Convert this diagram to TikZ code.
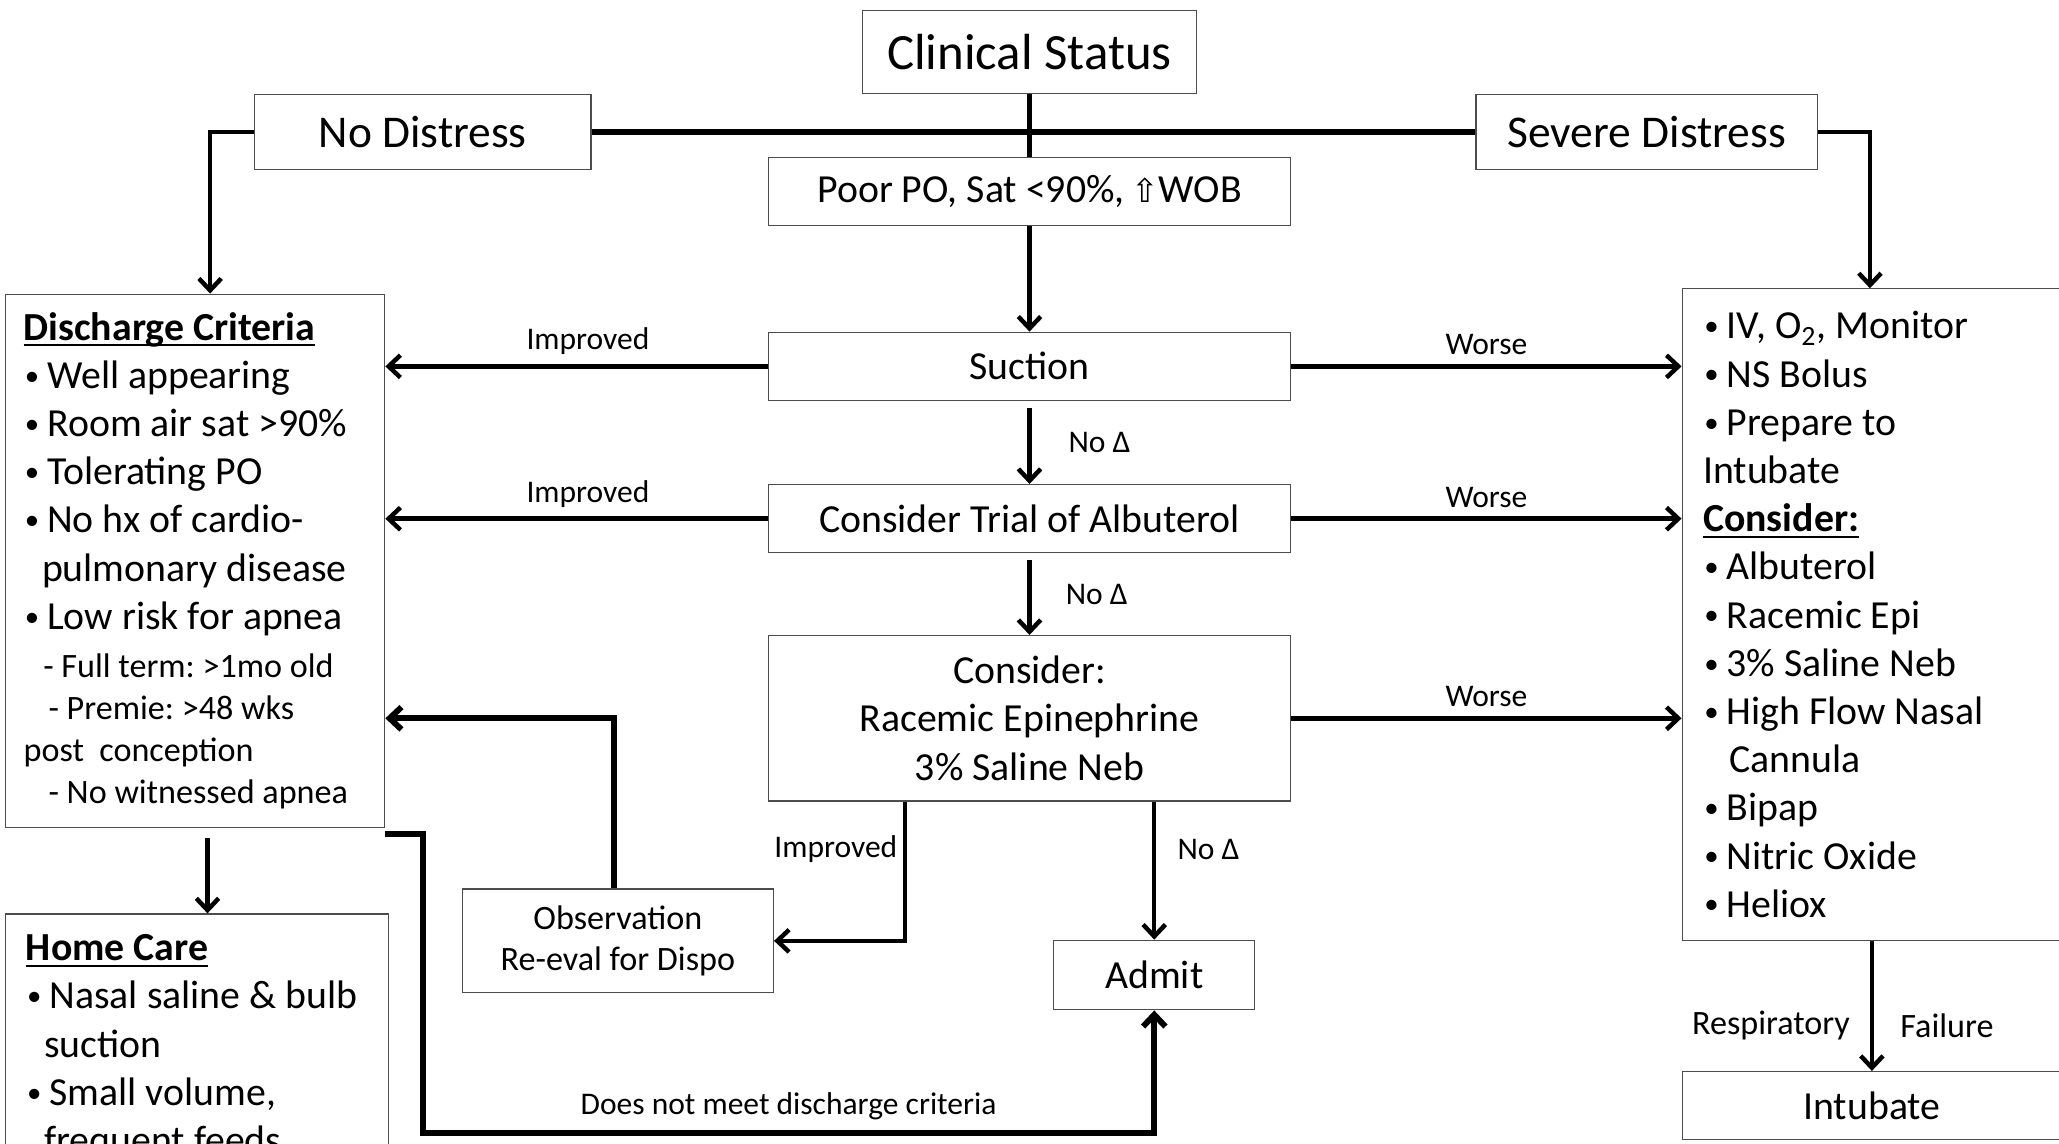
\documentclass[tikz,border=0pt]{standalone}
\usepackage{fontspec}
\setmainfont{Carlito}
\newfontfamily\arrowfont{DejaVu Sans}
\usetikzlibrary{arrows.meta,positioning}
\frenchspacing
\newcommand{\bul}{\makebox[18pt][l]{\hspace*{1pt}\raisebox{2.5pt}{\fontsize{22}{22}\selectfont •}}}
\newsavebox{\hdbox}
\newcommand{\hd}[1]{\sbox\hdbox{\textbf{#1}}\usebox\hdbox\llap{\rule[-4.5pt]{\wd\hdbox}{1.6pt}}}

\begin{document}
\begin{tikzpicture}[x=1pt,y=-1pt,>={Straight Barb[length=9pt,width=17pt]},
    box/.style={draw=black!70, line width=0.9pt, fill=white, inner sep=0pt,
        font=\fontsize{30.3}{36.7}\selectfont, align=center},
    lbl/.style={inner sep=2pt, font=\fontsize{24}{28}\selectfont},
    lbltwo/.style={inner sep=2pt, font=\fontsize{26}{31}\selectfont},
    conn/.style={->, line width=3.4pt},
    heavy/.style={line width=4.5pt}]
    \useasboundingbox (0,0) rectangle (1568,871);
    \node[box, font=\fontsize{38.7}{44}\selectfont, minimum width=254pt, minimum height=63pt] (cs) at (784,39.5) {Clinical Status};
    \node[box, font=\fontsize{34.6}{40}\selectfont, minimum width=256pt, minimum height=57pt] (nd) at (322,100.5) {No Distress};
    \node[box, font=\fontsize{34.6}{40}\selectfont, minimum width=260pt, minimum height=57pt] (sd) at (1254,100.5) {Severe Distress};
    \node[box, minimum width=398pt, minimum height=52pt] (po) at (784,146) {Poor PO, Sat <90\%,\,{\arrowfont\fontsize{25}{25}\selectfont ⇧}WOB};
    \node[box, minimum width=398pt, minimum height=52pt] (su) at (784,279) {Suction};
    \node[box, minimum width=398pt, minimum height=52pt] (ab) at (784,395) {Consider Trial of Albuterol};
    \node[box, minimum width=398pt, minimum height=126pt] (cn) at (784,547) {Consider:\\Racemic Epinephrine\\3\% Saline Neb};
    \node[box, align=flush left, text width=261pt, minimum width=289pt, minimum height=406pt] (dc) at (148.5,427) {%
        \hd{Discharge Criteria}\\
        \bul Well appearing\\
        \bul Room air sat >90\%\\
        \bul Tolerating PO\\
        \bul No hx of cardio-\\
        \hspace*{14pt}pulmonary disease\\
        \bul Low risk for apnea\\
        {\fontsize{26}{32}\selectfont\hspace*{15pt}- Full term: >1mo old}\\[-4.7pt]
        {\fontsize{26}{32}\selectfont\hspace*{19pt}- Premie: >48 wks}\\[-4.7pt]
        {\fontsize{26}{32}\selectfont post~ conception}\\[-4.7pt]
        {\fontsize{26}{32}\selectfont\hspace*{19pt}- No witnessed apnea}};
    \node[box, align=flush left, text width=257pt, minimum width=289pt, minimum height=496pt] (sv) at (1425.5,468) {%
        \bul IV, O\textsubscript{2}, Monitor\\
        \bul NS Bolus\\
        \bul Prepare to\\
        Intubate\\
        \hd{Consider:}\\
        \bul Albuterol\\
        \bul Racemic Epi\\
        \bul 3\% Saline Neb\\
        \bul High Flow Nasal\\
        \hspace*{20pt}Cannula\\
        \bul Bipap\\
        \bul Nitric Oxide\\
        \bul Heliox};
    \node[box, minimum width=292pt, minimum height=240pt] (hc) at (150,816) {};
    \node[below right=16pt and 16pt of hc.north west, inner sep=0pt, align=left,
        font=\fontsize{30.3}{36.7}\selectfont] (hct) {%
        \hd{Home Care}\\
        \bul Nasal saline \& bulb\\
        \hspace*{14pt}suction\\
        \bul Small volume,\\
        \hspace*{14pt}frequent feeds};
    \node[box, minimum width=289pt, minimum height=52pt] (it) at (1425.5,842) {Intubate};
    \node[box, font=\fontsize{26}{31}\selectfont, minimum width=237pt, minimum height=79pt] (ob) at (470.5,716.5) {Observation\\Re-eval for Dispo};
    \node[box, minimum width=153pt, minimum height=53pt] (ad) at (879,742.5) {Admit};
    \coordinate (lp) at (322,863);
    \coordinate (dcs) at ([xshift=9.5pt]dc.south);

    \draw[heavy] (cs) -- (po);
    \draw[heavy] (nd) -- (sd);
    \draw[conn] (nd.west) -| ([xshift=11.5pt]dc.north);
    \draw[conn] (sd.east) -| ([xshift=-1.5pt]sv.north);
    \draw[conn] (po) -- (su);
    \draw[conn] (su.west) -- node[lbl, above=5pt, pos=0.47] {Improved} (su.west -| dc.east);
    \draw[conn] (su.east) -- node[lbl, above=5pt] {Worse} (su.east -| sv.west);
    \draw[conn, shorten <=5pt] (su) -- node[lbl, right=26pt] {No Δ} (ab);
    \draw[conn] (ab.west) -- node[lbl, above=5pt, pos=0.47] {Improved} (ab.west -| dc.east);
    \draw[conn] (ab.east) -- node[lbl, above=5pt] {Worse} (ab.east -| sv.west);
    \draw[conn, shorten <=5pt] (ab) -- node[lbl, right=24pt] {No Δ} (cn);
    \draw[conn] (cn.east) -- node[lbl, above=5pt] {Worse} (cn.east -| sv.west);
    \draw[conn] ([xshift=-95pt]cn.south) |- node[lbl, left=2pt, pos=0.17] {Improved} (ob.east);
    \draw[conn] ([xshift=95pt]cn.south) -- node[lbl, right=14pt, pos=0.35] {No Δ} (ad.north);
    \draw[heavy, ->] ([xshift=-3pt]ob.north) |- (dc.east |- cn.east);
    \draw[heavy, ->] ([yshift=-5pt]dc.south east) -| (lp) -| node[lbl, above=6pt, pos=0.25] {Does not meet discharge criteria} (ad.south);
    \draw[conn, shorten <=8pt] (dcs) -- (dcs |- hc.north);
    \draw[conn] (sv) -- node[lbltwo, left=13pt, pos=0.65] {Respiratory} node[lbltwo, right=18pt, pos=0.65] {Failure} (it);
\end{tikzpicture}
\end{document}
